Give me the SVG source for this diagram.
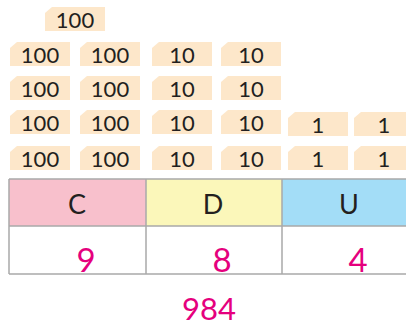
<svg xmlns="http://www.w3.org/2000/svg" xmlns:xlink="http://www.w3.org/1999/xlink" width="406" height="326" viewBox="0 0 406 326">
<style>
.card{fill:#FDE7CA}
.ct{font-family:Lato,"Liberation Sans",sans-serif;font-size:22px;fill:#231F20;text-anchor:middle}
.hd{font-family:Lato,"Liberation Sans",sans-serif;font-size:27px;fill:#231F20;text-anchor:middle}
.num{font-family:Lato,"Liberation Sans",sans-serif;font-size:33px;fill:#E5007D;text-anchor:middle}
.res{font-family:Lato,"Liberation Sans",sans-serif;font-size:31px;fill:#E5007D;text-anchor:middle}
.grid{stroke:#A9A9A9;stroke-width:1.5;fill:none}
</style>
<defs>
<path id="card" class="card" d="M0,6 L7,0 L60,0 L60,24 L0,24 Z"/>
</defs>
<rect width="406" height="326" fill="#fff"/>
<g id="cards">
<g id="c100-top"><use href="#card" x="45" y="7"/><text class="ct" x="75" y="28">100</text></g>
<g id="c100-r2a"><use href="#card" x="10" y="42"/><text class="ct" x="40" y="63">100</text></g>
<g id="c100-r2b"><use href="#card" x="80" y="42"/><text class="ct" x="110" y="63">100</text></g>
<g id="c10-r2a"><use href="#card" x="152" y="42"/><text class="ct" x="182" y="63">10</text></g>
<g id="c10-r2b"><use href="#card" x="221" y="42"/><text class="ct" x="251" y="63">10</text></g>
<g id="c100-r3a"><use href="#card" x="10" y="76"/><text class="ct" x="40" y="97">100</text></g>
<g id="c100-r3b"><use href="#card" x="80" y="76"/><text class="ct" x="110" y="97">100</text></g>
<g id="c10-r3a"><use href="#card" x="152" y="76"/><text class="ct" x="182" y="97">10</text></g>
<g id="c10-r3b"><use href="#card" x="221" y="76"/><text class="ct" x="251" y="97">10</text></g>
<g id="c100-r4a"><use href="#card" x="10" y="110"/><text class="ct" x="40" y="131">100</text></g>
<g id="c100-r4b"><use href="#card" x="80" y="110"/><text class="ct" x="110" y="131">100</text></g>
<g id="c10-r4a"><use href="#card" x="152" y="110"/><text class="ct" x="182" y="131">10</text></g>
<g id="c10-r4b"><use href="#card" x="221" y="110"/><text class="ct" x="251" y="131">10</text></g>
<g id="c1-r4a"><use href="#card" x="288" y="112"/><text class="ct" x="318" y="133">1</text></g>
<g id="c1-r4b"><use href="#card" x="354" y="112"/><text class="ct" x="384" y="133">1</text></g>
<g id="c100-r5a"><use href="#card" x="10" y="146"/><text class="ct" x="40" y="167">100</text></g>
<g id="c100-r5b"><use href="#card" x="80" y="146"/><text class="ct" x="110" y="167">100</text></g>
<g id="c10-r5a"><use href="#card" x="152" y="146"/><text class="ct" x="182" y="167">10</text></g>
<g id="c10-r5b"><use href="#card" x="221" y="146"/><text class="ct" x="251" y="167">10</text></g>
<g id="c1-r5a"><use href="#card" x="288" y="146"/><text class="ct" x="318" y="167">1</text></g>
<g id="c1-r5b"><use href="#card" x="354" y="146"/><text class="ct" x="384" y="167">1</text></g>
</g>
<g id="table">
<rect x="9" y="179" width="137" height="47" fill="#F8C0CC"/>
<rect x="146" y="179" width="136" height="47" fill="#FBF7BA"/>
<rect x="282" y="179" width="126" height="47" fill="#A3DDF7"/>
<path class="grid" d="M9,179 H408 M9,226 H408 M9,274 H408 M9,179 V274 M146,179 V274 M282,179 V274"/>
<text class="hd" x="77" y="214">C</text>
<text class="hd" x="213" y="214">D</text>
<text class="hd" x="349" y="214">U</text>
<text class="num" x="86" y="272">9</text>
<text class="num" x="222" y="272">8</text>
<text class="num" x="358" y="272">4</text>
</g>
<text id="result" class="res" x="209" y="320">984</text>
</svg>
